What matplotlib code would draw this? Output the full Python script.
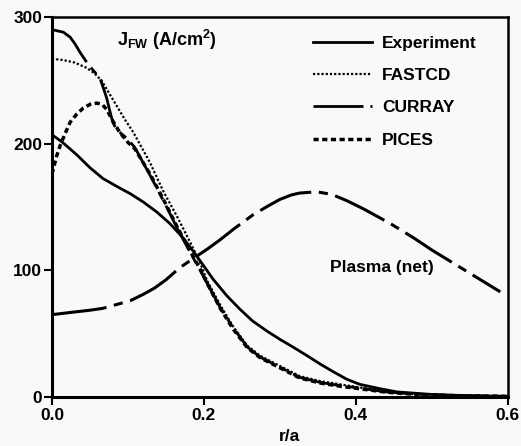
import matplotlib
matplotlib.use("Agg")
import matplotlib.pyplot as plt

plt.rcParams['font.family'] = ['Liberation Sans', 'DejaVu Sans']
plt.rcParams['font.weight'] = 'bold'
plt.rcParams['mathtext.fontset'] = 'custom'
plt.rcParams['mathtext.rm'] = 'Liberation Sans:bold'
plt.rcParams['mathtext.bf'] = 'Liberation Sans:bold'
plt.rcParams['mathtext.default'] = 'bf'

# data (r/a, J in A/cm^2)
exp_x = [0, 0.014, 0.033, 0.05, 0.067, 0.086, 0.103, 0.12, 0.138, 0.155, 0.172, 0.186, 0.195, 0.212, 0.23,
         0.247, 0.264, 0.283, 0.30, 0.317, 0.336, 0.353, 0.37, 0.388, 0.405, 0.432, 0.454, 0.5, 0.55, 0.6]
exp_y = [207, 201, 191, 181, 172.5, 166, 160.5, 154, 146, 137, 126, 115, 107.5, 93, 80,
         69.5, 60, 52, 45.5, 39.5, 32.5, 26, 20, 14, 10, 6.5, 4, 2, 1, 0.5]

fast_x = [0, 0.015, 0.03, 0.045, 0.055, 0.065, 0.075, 0.085, 0.096, 0.107, 0.118, 0.129, 0.146, 0.165, 0.182,
          0.195, 0.204, 0.221, 0.238, 0.257, 0.274, 0.30, 0.326, 0.353, 0.379, 0.405, 0.44, 0.48, 0.53, 0.6]
fast_y = [267, 266, 264, 260, 256, 250, 240, 230, 219, 209, 197, 185, 163, 142, 122,
          106, 92, 73, 56, 40.5, 32.5, 24.5, 16.5, 12.5, 10, 7.5, 4.5, 2.5, 1.2, 0.5]

curray_x = [0, 0.015, 0.024, 0.03, 0.037, 0.046, 0.054, 0.063, 0.067, 0.072, 0.076, 0.08, 0.085, 0.099, 0.109,
            0.13, 0.15, 0.165, 0.182, 0.195, 0.204, 0.221, 0.238, 0.257, 0.274, 0.30, 0.326, 0.353, 0.379,
            0.405, 0.44, 0.48, 0.53, 0.6]
curray_y = [290, 288, 284, 279, 272, 264, 258, 252, 245, 236, 226, 217, 211, 204, 197,
            174, 151, 133, 114, 100, 90, 71, 55, 39.5, 31.5, 23.5, 15.5, 11.5, 9,
            7, 4, 2.2, 1, 0.5]

pices_x = [0, 0.006, 0.011, 0.018, 0.024, 0.032, 0.041, 0.05, 0.059, 0.066, 0.072, 0.08, 0.089, 0.1, 0.109,
           0.13, 0.15, 0.165, 0.182, 0.195, 0.204, 0.221, 0.238, 0.257, 0.274, 0.30, 0.326, 0.353, 0.379,
           0.405, 0.44, 0.48, 0.53, 0.6]
pices_y = [176, 190, 199, 209, 217, 223, 228, 231, 232, 231, 227, 218, 209, 201, 196,
           175, 152, 134, 115, 101, 90, 70.5, 54, 39, 31, 23, 15, 11, 8.5,
           6.5, 3.8, 2, 1, 0.5]

plasma_x = [0, 0.028, 0.05, 0.067, 0.085, 0.103, 0.12, 0.135, 0.15, 0.168, 0.19, 0.205, 0.221, 0.24, 0.265,
            0.285, 0.30, 0.315, 0.326, 0.348, 0.368, 0.388, 0.41, 0.445, 0.475, 0.5, 0.53, 0.56, 0.59]
plasma_y = [65, 67, 68.5, 70, 73, 76, 81, 86, 92.5, 102, 111, 117, 124, 133, 144,
            151, 156, 159.5, 161, 162, 160, 155, 148.5, 137, 126, 116, 105, 94, 83]

labels = ['Experiment', 'FASTCD', 'CURRAY', 'PICES']

dashdot = (0, (18, 2.5, 3, 2.5))

fig = plt.figure(figsize=(5.21, 4.46), dpi=100)
fig.patch.set_facecolor('#f8f9f8')
ax = fig.add_axes([0.0998, 0.1099, 0.875, 0.852])
ax.set_facecolor('#f8f9f8')

ax.plot(exp_x, exp_y, color='black', lw=2, linestyle='-', label=labels[0])
ax.plot(fast_x, fast_y, color='black', lw=1.6, linestyle=(0, (1, 0.9)), label=labels[1])
ax.plot(curray_x, curray_y, color='black', lw=2, linestyle=dashdot, label=labels[2])
ax.plot(pices_x, pices_y, color='black', lw=2.5, linestyle=(0, (1.5, 1)), label=labels[3])
ax.plot(plasma_x, plasma_y, color='black', lw=2.2, linestyle=dashdot)

ax.set_xlim(0, 0.6)
ax.set_ylim(0, 300)
ax.set_xticks([0.0, 0.2, 0.4, 0.6])
ax.set_xticklabels(['0.0', '0.2', '0.4', '0.6'])
ax.set_yticks([0, 100, 200, 300])
ax.tick_params(axis='y', direction='out', length=6, width=1.5, pad=1, labelsize=12.5)
ax.tick_params(axis='x', direction='out', length=6, width=1.5, pad=2, labelsize=12.5)
for s in ['left', 'bottom']:
    ax.spines[s].set_linewidth(2.2)
for s in ['top', 'right']:
    ax.spines[s].set_linewidth(1.8)

ax.set_xlabel('r/a', fontsize=12.5, fontweight='bold')
ax.xaxis.set_label_coords(0.52, -0.085)

ax.text(0.085, 282, r'J$_{FW}$ (A/cm$^{2}$)', fontsize=13, fontweight='bold', va='center')
ax.text(0.366, 102, 'Plasma (net)', fontsize=12.5, fontweight='bold', va='center')

ax.legend(loc='upper left', bbox_to_anchor=(0.572, 0.95), frameon=False,
          handlelength=3.4, handletextpad=0.6, labelspacing=0.98,
          borderpad=0, borderaxespad=0, prop={'size': 12.5, 'weight': 'bold'})

fig.savefig('out.png', dpi=100, facecolor=fig.get_facecolor())
